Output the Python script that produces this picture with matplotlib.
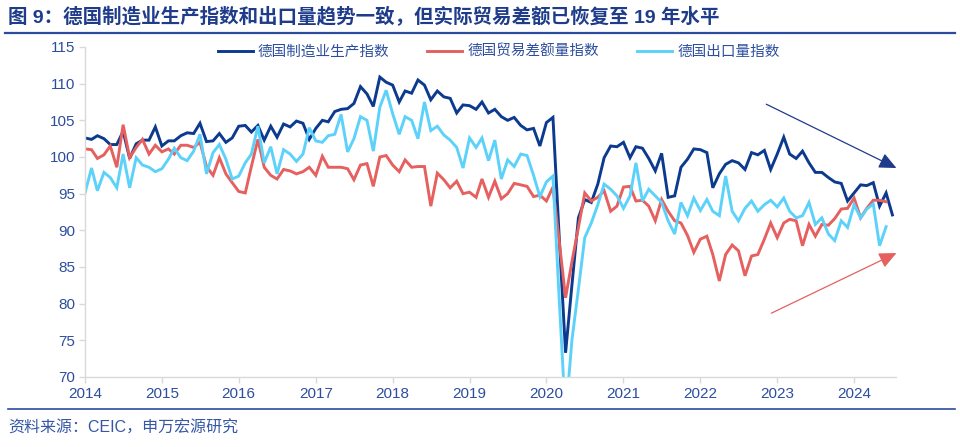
"""German manufacturing output, export volume and real trade balance indices."""

import matplotlib
matplotlib.use('Agg')
import matplotlib.dates as mdates
import matplotlib.pyplot as plt
import pandas as pd
from matplotlib.lines import Line2D

# Monthly values from Jan 2014
manuf_idx = [
    102.6, 102.4, 102.9, 102.5, 101.7, 101.7, 103.5, 99.8, 101.8, 102.3, 102.3, 104.1,   # 2014
    101.5, 102.2, 102.2, 102.9, 103.3, 103.2, 104.6, 102.1, 102.2, 103.2, 102.0, 102.6,  # 2015
    104.2, 104.3, 103.4, 104.3, 102.3, 104.2, 102.7, 104.5, 104.1, 104.9, 104.6, 102.4,  # 2016
    103.9, 105.0, 104.8, 106.2, 106.5, 106.6, 107.3, 109.6, 108.6, 106.9, 110.9, 110.2,  # 2017
    109.8, 107.5, 109.0, 108.7, 110.5, 109.8, 107.8, 109.0, 108.2, 108.0, 106.0, 107.1,  # 2018
    107.0, 106.5, 107.5, 106.0, 106.5, 105.5, 105.0, 105.4, 104.3, 103.7, 103.9, 101.5,  # 2019
    104.7, 105.4, 89.5, 73.3, 82.5, 91.7, 94.2, 93.8, 96.3, 99.9, 101.5, 101.4,          # 2020
    102.0, 99.9, 101.4, 101.2, 99.8, 98.1, 100.5, 94.5, 94.7, 98.6, 99.7, 101.1,         # 2021
    101.0, 100.6, 95.8, 97.7, 99.0, 99.5, 99.2, 98.3, 100.6, 100.3, 100.9, 98.3,         # 2022
    100.4, 102.7, 100.4, 99.8, 100.8, 99.2, 97.9, 97.9, 97.2, 96.6, 96.4, 94.0,          # 2023
    95.1, 96.2, 96.1, 96.5, 93.3, 95.1, 92.1,                                            # 2024
]

trade_bal_idx = [
    101.1, 101.0, 99.8, 100.3, 101.5, 98.6, 104.4, 99.9, 101.3, 102.4, 100.4, 101.6,
    100.7, 101.1, 100.4, 101.6, 101.6, 101.3, 102.0, 98.7, 97.5, 99.9, 97.7, 96.5,
    95.3, 95.1, 98.7, 102.4, 98.6, 97.5, 97.0, 98.3, 98.1, 97.7, 98.0, 98.6,
    97.5, 100.1, 98.6, 98.6, 98.6, 98.4, 96.9, 98.9, 99.1, 96.0, 100.0, 100.2,
    98.9, 98.0, 99.6, 98.6, 98.7, 98.7, 93.3, 97.8, 96.9, 95.8, 96.7, 95.0,
    95.2, 94.5, 97.0, 94.5, 96.7, 94.3, 95.0, 96.4, 96.2, 96.0, 94.6, 94.8,
    94.0, 95.9, 88.7, 80.8, 85.7, 90.4, 95.1, 94.0, 94.5, 95.4, 92.6, 93.3,
    95.9, 96.0, 94.0, 94.1, 93.3, 91.3, 94.2, 92.6, 91.3, 91.0, 89.3, 87.0,
    88.8, 89.2, 86.7, 83.1, 86.7, 88.0, 87.2, 83.8, 86.5, 86.7, 88.8, 91.0,
    89.0, 91.0, 91.5, 91.3, 87.9, 90.8, 89.2, 90.8, 90.7, 91.6, 92.9, 93.0,
    94.4, 91.7, 93.0, 94.1, 94.1, 93.9,
]

export_idx = [
    95.1, 98.5, 95.4, 97.9, 97.2, 95.8, 100.4, 95.8, 99.9, 98.9, 98.6, 98.0,
    98.4, 99.7, 101.2, 99.9, 99.5, 100.8, 103.1, 97.7, 100.6, 101.7, 99.7, 97.0,
    97.4, 99.2, 100.4, 104.2, 99.2, 101.4, 97.7, 101.0, 100.4, 99.4, 100.4, 104.0,
    102.2, 102.0, 102.9, 103.1, 105.8, 100.7, 102.5, 105.5, 105.0, 100.8, 106.8, 109.1,
    105.9, 103.1, 105.5, 105.0, 102.5, 107.5, 103.6, 104.2, 103.0, 102.3, 101.3, 98.5,
    102.6, 101.3, 102.6, 99.5, 102.3, 97.0, 99.6, 98.7, 100.4, 100.2, 97.5, 94.6,
    96.6, 97.4, 81.0, 64.5, 75.0, 82.0, 89.0, 91.0, 93.5, 96.3, 95.6, 94.7,
    93.0, 94.7, 99.2, 94.0, 95.6, 94.7, 93.8, 91.3, 89.5, 93.8, 92.0, 94.4,
    92.7, 94.2, 92.6, 92.0, 97.4, 92.6, 91.3, 93.0, 94.0, 92.6, 93.5, 94.1,
    93.2, 94.4, 92.6, 91.7, 92.0, 93.8, 90.8, 91.7, 89.5, 88.6, 91.3, 90.4,
    93.5, 91.7, 92.9, 93.6, 87.9, 90.5,
]

series_names = ['德国制造业生产指数', '德国贸易差额量指数', '德国出口量指数']
series_colors = ['#0B3A8E', '#E5605E', '#5CD2FA']

title = '图 9：德国制造业生产指数和出口量趋势一致，但实际贸易差额已恢复至 19 年水平'
source = '资料来源：CEIC，申万宏源研究'

TEXT_BLUE = '#2D4E9E'
TITLE_BLUE = '#1E3C8A'


def monthly(values):
    return pd.date_range('2014-01-01', periods=len(values), freq='MS')


def main():
    plt.rcParams['font.family'] = ['Liberation Sans', 'Noto Sans CJK SC']

    fig = plt.figure(figsize=(9.6, 4.47), dpi=100)
    ax = fig.add_axes([85 / 960, 70 / 447, 811 / 960, 330 / 447])

    for values, name, color in zip([manuf_idx, trade_bal_idx, export_idx], series_names, series_colors):
        ax.plot(monthly(values), values, color=color, lw=2.1, label=name, solid_joinstyle='miter')

    ax.set_ylim(70, 115)
    ax.set_yticks(range(70, 116, 5))
    ax.set_xlim(pd.Timestamp('2014-01-01'), pd.Timestamp('2024-07-18'))
    ax.xaxis.set_major_locator(mdates.YearLocator())
    ax.xaxis.set_major_formatter(mdates.DateFormatter('%Y'))

    for side in ['top', 'right']:
        ax.spines[side].set_visible(False)
    for side in ['left', 'bottom']:
        ax.spines[side].set_color('#D9D9D9')
        ax.spines[side].set_linewidth(1.0)
    ax.tick_params(axis='both', colors='#D9D9D9', labelcolor=TEXT_BLUE, labelsize=11, length=4, width=1)
    ax.tick_params(axis='y', pad=3)

    ax.legend(loc='center', bbox_to_anchor=(0.51, 0.985), ncol=3, frameon=False, fontsize=10.5,
              labelcolor=TEXT_BLUE, handlelength=2.4, handletextpad=0.35, columnspacing=2.6)

    # Trend arrows
    ax.annotate('', xy=(pd.Timestamp('2024-07-20'), 98.5), xytext=(pd.Timestamp('2022-11-10'), 107.2),
                arrowprops=dict(arrowstyle='-|>,head_length=0.7,head_width=0.32', color='#1E3C8A',
                                lw=0.9, mutation_scale=15, shrinkA=0, shrinkB=0),
                annotation_clip=False)
    ax.annotate('', xy=(pd.Timestamp('2024-07-20'), 86.9), xytext=(pd.Timestamp('2022-12-04'), 78.7),
                arrowprops=dict(arrowstyle='-|>,head_length=0.7,head_width=0.32', color='#E5605E',
                                lw=0.9, mutation_scale=15, shrinkA=0, shrinkB=0),
                annotation_clip=False)

    # Header and footer
    fig.text(8 / 960, 1 - 17 / 447, title, fontsize=14, fontweight='bold', color=TITLE_BLUE, va='center')
    fig.add_artist(Line2D([5 / 960, 955 / 960], [1 - 33 / 447] * 2, color='#2B4C9E', lw=1.6))
    fig.add_artist(Line2D([8 / 960, 955 / 960], [1 - 409 / 447] * 2, color='#2B4C9E', lw=1.2))
    fig.text(8 / 960, 1 - 428 / 447, source, fontsize=11.5, color='#3557A6', va='center')

    plt.savefig('out.png', dpi=100)
    plt.close()


if __name__ == '__main__':
    main()
